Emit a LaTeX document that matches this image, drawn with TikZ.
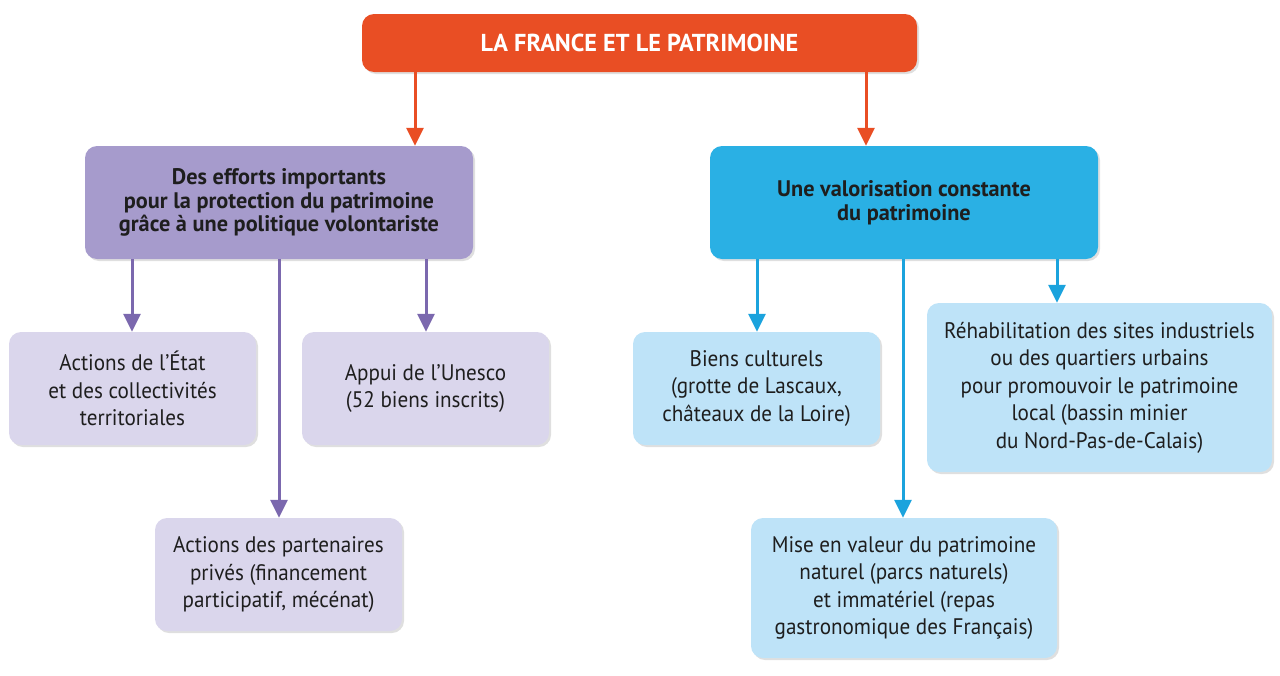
\documentclass[tikz,border=0pt]{standalone}
\usepackage{fontspec}
\setmainfont{PT Sans}[FakeStretch=0.94, BoldFeatures={FakeStretch=0.99}]
\usetikzlibrary{arrows.meta,shadows}
\definecolor{orangeT}{RGB}{233,78,36}
\definecolor{purpleH}{RGB}{166,155,204}
\definecolor{purpleA}{RGB}{123,104,174}
\definecolor{purpleL}{RGB}{218,214,236}
\definecolor{blueH}{RGB}{42,176,228}
\definecolor{blueA}{RGB}{27,163,221}
\definecolor{blueL}{RGB}{190,227,248}
\definecolor{txt}{RGB}{30,30,30}
\tikzset{
  box/.style={rectangle, rounded corners=12pt, align=center, inner sep=0pt, text=txt,
    drop shadow={shadow xshift=2pt, shadow yshift=-2pt, opacity=0.25}},
  titlebox/.style={box, fill=orangeT, text=white, font=\fontsize{24.5}{27}\selectfont\bfseries},
  headP/.style={box, fill=purpleH, font=\fontsize{22.5}{23.5}\selectfont\bfseries},
  headB/.style={box, fill=blueH, font=\fontsize{22.5}{23.5}\selectfont\bfseries},
  leafP/.style={box, fill=purpleL, font=\fontsize{22.5}{27.5}\selectfont},
  leafB/.style={box, fill=blueL, font=\fontsize{22.5}{27.5}\selectfont},
  arrO/.style={draw=orangeT, line width=3pt, -{Triangle[length=18pt,width=17pt]}},
  arrP/.style={draw=purpleA, line width=3pt, -{Triangle[length=18pt,width=17pt]}},
  arrB/.style={draw=blueA, line width=3pt, -{Triangle[length=18pt,width=17pt]}},
}
\begin{document}
\begin{tikzpicture}[x=1pt,y=-1pt]
\useasboundingbox (0,0) rectangle (1280,675);
\node[titlebox, minimum width=555pt, minimum height=58pt] (T) at (639.5,43) {LA FRANCE ET LE PATRIMOINE};
\node[headP, minimum width=388pt, minimum height=113pt] (P) at (279,202.5) {Des efforts importants\\pour la protection du patrimoine\\grâce à une politique volontariste};
\node[headB, minimum width=388pt, minimum height=113pt] (B) at (904,202.5) {Une valorisation constante\\du patrimoine};
\node[leafP, minimum width=247pt, minimum height=113pt] (E) at (132.5,388.5) {Actions de l’État\\et des collectivités\\territoriales};
\node[leafP, minimum width=247pt, minimum height=113pt] (U) at (425.5,388.5) {Appui de l’Unesco\\(52 biens inscrits)};
\node[leafP, minimum width=247pt, minimum height=113pt] (A) at (278.5,574.5) {Actions des partenaires\\privés (financement\\participatif, mécénat)};
\node[leafB, minimum width=247pt, minimum height=113pt] (C) at (756.5,388.5) {Biens culturels\\(grotte de Lascaux,\\châteaux de la Loire)};
\node[leafB, minimum width=345pt, minimum height=169pt] (R) at (1099.5,387.5) {Réhabilitation des sites industriels\\ou des quartiers urbains\\pour promouvoir le patrimoine\\local (bassin minier\\du Nord-Pas-de-Calais)};
\node[leafB, minimum width=306pt, minimum height=140pt] (M) at (904,588) {Mise en valeur du patrimoine\\naturel (parcs naturels)\\et immatériel (repas\\gastronomique des Français)};
\coordinate (x1) at (415,0);
\coordinate (x2) at (866,0);
\coordinate (x3) at (132,0);
\coordinate (x4) at (279,0);
\coordinate (x5) at (426,0);
\coordinate (x6) at (757,0);
\coordinate (x7) at (903,0);
\coordinate (x8) at (1057,0);
\draw[arrO] (T.south -| x1) -- (P.north -| x1);
\draw[arrO] (T.south -| x2) -- (B.north -| x2);
\draw[arrP] (P.south -| x3) -- (E.north -| x3);
\draw[arrP] (P.south -| x4) -- (A.north -| x4);
\draw[arrP] (P.south -| x5) -- (U.north -| x5);
\draw[arrB] (B.south -| x6) -- (C.north -| x6);
\draw[arrB] (B.south -| x7) -- (M.north -| x7);
\draw[arrB] (B.south -| x8) -- (R.north -| x8);
\end{tikzpicture}
\end{document}
